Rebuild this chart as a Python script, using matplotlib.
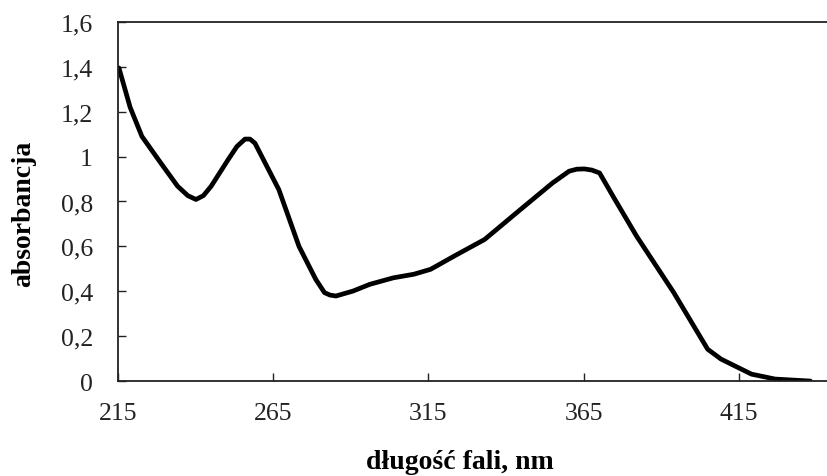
import numpy as np
import matplotlib
matplotlib.use("Agg")
import matplotlib.pyplot as plt
from matplotlib.ticker import FuncFormatter

# absorption spectrum
wavelength = [215.3, 218.9, 222.7, 228.7, 234.2, 237.5, 240.1, 242.5, 245.0, 250.5,
              253.3, 255.9, 257.5, 259.1, 266.8, 273.3, 278.7, 281.5, 283.3, 285.2,
              290.7, 296.1, 303.7, 310.3, 315.7, 323.3, 333.1, 344.0, 354.9, 360.3,
              362.8, 365.2, 367.6, 370.1, 374.4, 382.0, 394.0, 404.9, 409.2, 419.0,
              426.6, 438.0]
absorbance = [1.395, 1.22, 1.09, 0.973, 0.868, 0.826, 0.809, 0.826, 0.868, 0.987,
              1.045, 1.078, 1.078, 1.06, 0.853, 0.60, 0.453, 0.394, 0.383, 0.379,
              0.401, 0.431, 0.46, 0.476, 0.498, 0.557, 0.631, 0.757, 0.882, 0.935,
              0.944, 0.945, 0.94, 0.927, 0.824, 0.646, 0.394, 0.142, 0.098, 0.031,
              0.009, 0.0]
x_ticks = [215, 265, 315, 365, 415]
y_ticks = [0, 0.2, 0.4, 0.6, 0.8, 1.0, 1.2, 1.4, 1.6]

plt.rcParams['font.family'] = ['Liberation Serif', 'DejaVu Serif']

fig = plt.figure(figsize=(8.28, 4.77), dpi=100)
ax = fig.add_axes([0.1425, 0.199, 0.87, 0.753])

ax.plot(wavelength, absorbance, color='black', lw=3.4, solid_joinstyle='round',
        solid_capstyle='round')

ax.set_xlim(215, 447)
ax.set_ylim(0, 1.6)
ax.set_xticks(x_ticks)
ax.set_yticks(y_ticks)
ax.yaxis.set_major_formatter(FuncFormatter(lambda v, p: f"{v:g}".replace('.', ',')))
ax.tick_params(direction='in', length=6, width=1, labelsize=18.5, colors='#222')
ax.tick_params(axis='y', pad=18)
ax.tick_params(axis='x', pad=15)
for s in ax.spines.values():
    s.set_linewidth(1.3)
    s.set_color('#222')

ax.set_xlabel('długość fali, nm', fontsize=20, fontweight='bold')
ax.set_ylabel('absorbancja', fontsize=20, fontweight='bold')
ax.xaxis.set_label_coords(0.475, -0.19)
ax.yaxis.set_label_coords(-0.114, 0.467)

fig.savefig('out.png', dpi=100)
